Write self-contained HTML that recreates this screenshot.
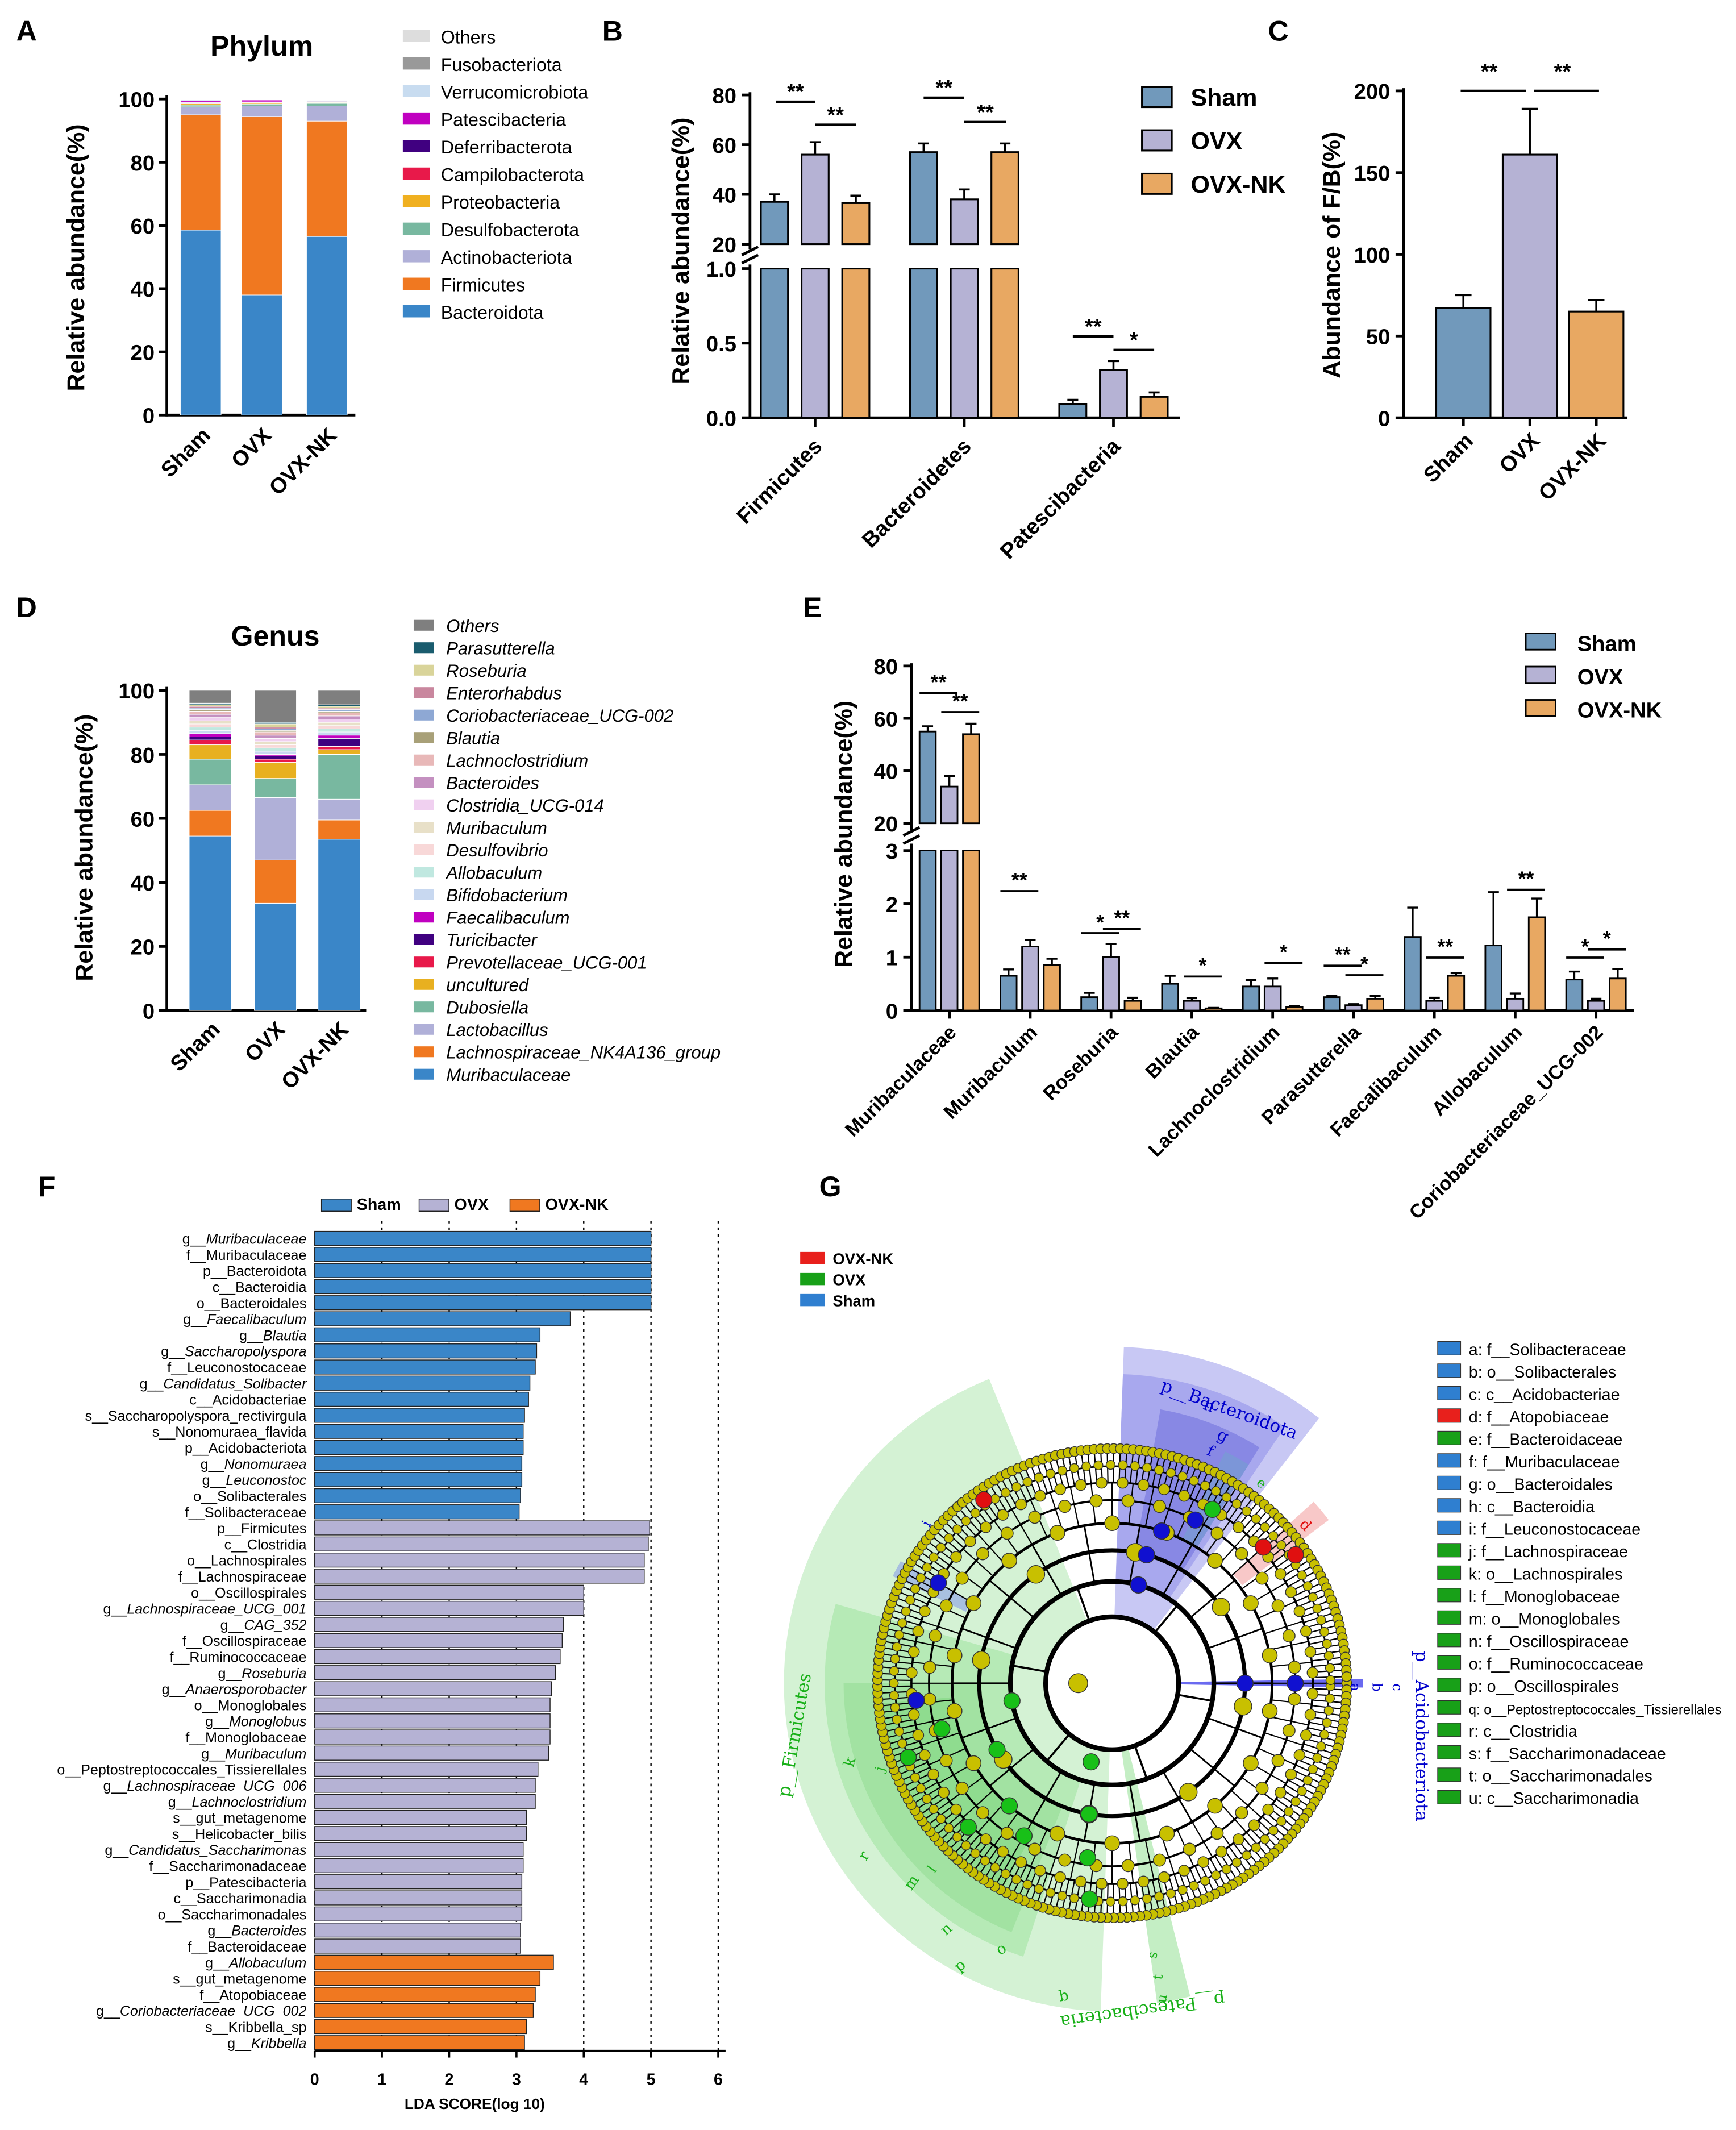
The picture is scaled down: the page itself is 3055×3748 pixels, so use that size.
<!DOCTYPE html>
<html><head><meta charset="utf-8"><style>
html,body{margin:0;padding:0;background:#fff}
svg{display:block;font-family:"Liberation Sans",Arial,sans-serif}
</style></head><body>
<svg id="fig" xmlns="http://www.w3.org/2000/svg" width="3055" height="3748" viewBox="0 0 1280 1570.4"></svg>
<script>
// ---------- DATA ----------
const phylaNames=['Bacteroidota','Firmicutes','Actinobacteriota','Desulfobacterota','Proteobacteria','Campilobacterota','Deferribacterota','Patescibacteria','Verrucomicrobiota','Fusobacteriota','Others'];
const phylaColors=['#3a86c8','#f07820','#b0b0d8','#78b8a0','#f0b020','#e8194a','#400080','#c000c0','#c8dcf0','#999999','#dddddd'];
const phylumSham=[58.5,36.5,2.5,0.6,0.4,0.3,0.2,0.4,0.3,0.1,0.2];
const phylumOVX=[38,56.5,3.3,0.6,0.3,0.2,0.2,0.6,0.1,0.1,0.1];
const phylumNK=[56.5,36.5,4.8,0.8,0.3,0.2,0.2,0.2,0.2,0.1,0.2];
const groups=['Sham','OVX','OVX-NK'];
const grpColors=['#7199bb','#b5b2d4','#e8a862'];

const bCats=['Firmicutes','Bacteroidetes','Patescibacteria'];
const bSham=[37,57,0.09], bShamErr=[3,3.5,0.03];
const bOVX=[56,38,0.32], bOVXErr=[5,4,0.06];
const bNK=[36.5,57,0.14], bNKErr=[3,3.5,0.03];

const cVals=[67,161,65], cErr=[8,28,7];

const genusNames=['Muribaculaceae','Lachnospiraceae_NK4A136_group','Lactobacillus','Dubosiella','uncultured','Prevotellaceae_UCG-001','Turicibacter','Faecalibaculum','Bifidobacterium','Allobaculum','Desulfovibrio','Muribaculum','Clostridia_UCG-014','Bacteroides','Lachnoclostridium','Blautia','Coriobacteriaceae_UCG-002','Enterorhabdus','Roseburia','Parasutterella','Others'];
const genusColors=['#3a86c8','#f07820','#b0b0d8','#78b8a0','#e8b020','#e8194a','#400080','#c000c0','#c8d8f0','#c0e8e0','#f8d8d8','#e8e0c8','#f0d0f0','#c490c0','#e8b8b8','#a8a078','#8ea8d4','#c9879e','#d9d49a','#1a5c6e','#7f7f7f'];
const genusSham=[54.5,8,8,8,4.5,1.5,1,1,1,1,1,1,1,1,1,0.5,0.5,0.5,0.5,0.5,4];
const genusOVX=[33.5,13.5,19.5,6,5,1,1,0.5,1,1,1,1,1,1,1,0.5,0.5,0.5,1,0.5,10];
const genusNK=[53.5,6,6.5,14,1.5,1,2.5,1,1,1,1,1,1,1,1,0.5,0.5,0.5,0.5,0.5,4.5];

const eCats=['Muribaculaceae','Muribaculum','Roseburia','Blautia','Lachnoclostridium','Parasutterella','Faecalibaculum','Allobaculum','Coriobacteriaceae_UCG-002'];
const eSham=[55,0.65,0.25,0.5,0.45,0.25,1.38,1.22,0.58], eShamErr=[2,0.12,0.08,0.15,0.12,0.03,0.55,1.0,0.15];
const eOVX=[34,1.2,1.0,0.18,0.45,0.1,0.18,0.22,0.18], eOVXErr=[4,0.12,0.25,0.05,0.15,0.02,0.06,0.1,0.04];
const eNK=[54,0.85,0.18,0.04,0.06,0.22,0.65,1.75,0.6], eNKErr=[4,0.12,0.06,0.01,0.02,0.05,0.05,0.35,0.18];

const ldaNames=['g__Muribaculaceae','f__Muribaculaceae','p__Bacteroidota','c__Bacteroidia','o__Bacteroidales','g__Faecalibaculum','g__Blautia','g__Saccharopolyspora','f__Leuconostocaceae','g__Candidatus_Solibacter','c__Acidobacteriae','s__Saccharopolyspora_rectivirgula','s__Nonomuraea_flavida','p__Acidobacteriota','g__Nonomuraea','g__Leuconostoc','o__Solibacterales','f__Solibacteraceae',
'p__Firmicutes','c__Clostridia','o__Lachnospirales','f__Lachnospiraceae','o__Oscillospirales','g__Lachnospiraceae_UCG_001','g__CAG_352','f__Oscillospiraceae','f__Ruminococcaceae','g__Roseburia','g__Anaerosporobacter','o__Monoglobales','g__Monoglobus','f__Monoglobaceae','g__Muribaculum','o__Peptostreptococcales_Tissierellales','g__Lachnospiraceae_UCG_006','g__Lachnoclostridium','s__gut_metagenome','s__Helicobacter_bilis','g__Candidatus_Saccharimonas','f__Saccharimonadaceae','p__Patescibacteria','c__Saccharimonadia','o__Saccharimonadales','g__Bacteroides','f__Bacteroidaceae',
'g__Allobaculum','s__gut_metagenome','f__Atopobiaceae','g__Coriobacteriaceae_UCG_002','s__Kribbella_sp','g__Kribbella'];
const ldaScores=[5.0,5.0,5.0,5.0,5.0,3.8,3.35,3.3,3.28,3.2,3.18,3.12,3.1,3.1,3.08,3.08,3.06,3.04,
4.98,4.96,4.9,4.9,4.0,4.0,3.7,3.68,3.65,3.58,3.52,3.5,3.5,3.5,3.48,3.32,3.28,3.28,3.15,3.15,3.1,3.1,3.08,3.08,3.08,3.06,3.06,
3.55,3.35,3.28,3.25,3.15,3.12];
const ldaGroup=[0,0,0,0,0,0,0,0,0,0,0,0,0,0,0,0,0,0, 1,1,1,1,1,1,1,1,1,1,1,1,1,1,1,1,1,1,1,1,1,1,1,1,1,1,1, 2,2,2,2,2,2];
const ldaColors=['#3a86c8','#b5b2d4','#f07820'];

const cladoLegend=['a: f__Solibacteraceae','b: o__Solibacterales','c: c__Acidobacteriae','d: f__Atopobiaceae','e: f__Bacteroidaceae','f: f__Muribaculaceae','g: o__Bacteroidales','h: c__Bacteroidia','i: f__Leuconostocaceae','j: f__Lachnospiraceae','k: o__Lachnospirales','l: f__Monoglobaceae','m: o__Monoglobales','n: f__Oscillospiraceae','o: f__Ruminococcaceae','p: o__Oscillospirales','q: o__Peptostreptococcales_Tissierellales','r: c__Clostridia','s: f__Saccharimonadaceae','t: o__Saccharimonadales','u: c__Saccharimonadia'];
const cladoLegendGrp=[2,2,2,0,1,2,2,2,2,1,1,1,1,1,1,1,1,1,1,1,1];
const cladoColors=['#e8201c','#18a018','#2f7fd0'];

// ---------- HELPERS ----------
const NS='http://www.w3.org/2000/svg';
const svg=document.getElementById('fig');
function E(tag,a,p){const e=document.createElementNS(NS,tag);for(const k in a)e.setAttribute(k,a[k]);(p||svg).appendChild(e);return e;}
function T(x,y,s,a,p){const e=E('text',Object.assign({x:x,y:y},a||{}),p);e.textContent=s;return e;}
function G(){return E('g',{});}

[['A',12,30],['B',444,30],['C',935,30],['D',12,455],['E',592,455],['F',28,882],['G',604,882]].forEach(l=>{
  const t=T(l[1],l[2],l[0],{'font-size':21,'font-weight':'bold'});
  
  
});

function yTitle(x,y,s,name){const t=T(x,y,s,{'font-size':18,'font-weight':'bold','text-anchor':'middle',transform:`rotate(-90 ${x} ${y})`});

}
function xLab(x,y,s,name,fs){const t=T(x,y,s,{'font-size':fs||16,'font-weight':'bold','text-anchor':'end',transform:`rotate(-45 ${x} ${y})`});

}
function line(x1,y1,x2,y2,w,c,p){return E('line',{x1,y1,x2,y2,stroke:c||'#000','stroke-width':w||2},p);}

// ---------- PANEL A ----------
(function(){
 const g=G();
 
 
 const y=v=>306-v*2.33;
 line(123,70,123,307,2,'#000',g);
 [0,20,40,60,80,100].forEach(v=>{line(117,y(v),123,y(v),2,'#000',g);
  const t=T(114,y(v)+6,String(v),{'font-size':16,'font-weight':'bold','text-anchor':'end'},g);
  
  });
 line(123,306,262,306,2,'#000',g);
 const cx=[148,193,241],data=[phylumSham,phylumOVX,phylumNK];
 data.forEach((arr,i)=>{let acc=0;arr.forEach((v,j)=>{const r=E('rect',{x:cx[i]-15,y:y(acc+v),width:30,height:v*2.33,fill:phylaColors[j],stroke:'#fff','stroke-width':0.4},g);
  
  
  acc+=v;});
  xLab(cx[i]+8,322,groups[i],'a-x-label');});
 T(193,41,'Phylum',{'font-size':21,'font-weight':'bold','text-anchor':'middle'},g);
 yTitle(62,190,'Relative abundance(%)','a-y-axis-title');
 for(let k=0;k<phylaNames.length;k++){const j=phylaNames.length-1-k;const yy=27+k*20.3;
  const r=E('rect',{x:297,y:yy-5,width:20,height:9,fill:phylaColors[j]},g);
  
  
  const t=T(325,yy+5,phylaNames[j],{'font-size':13.5},g);
  
  }
})();

// ---------- PANEL B ----------
(function(){
 const g=G();
 
 
 const yT=v=>180-(v-20)*110/60, yB=v=>308-v*110;
 line(553,68,553,184,2,'#000',g);line(553,195,553,309,2,'#000',g);
 line(547,188,559,182,2,'#000',g);line(547,194,559,188,2,'#000',g);
 [20,40,60,80].forEach(v=>{line(547,yT(v),553,yT(v),2,'#000',g);T(543,yT(v)+6,String(v),{'font-size':16,'font-weight':'bold','text-anchor':'end'},g);});
 [0,0.5,1.0].forEach(v=>{line(547,yB(v),553,yB(v),2,'#000',g);T(543,yB(v)+6,v.toFixed(1),{'font-size':16,'font-weight':'bold','text-anchor':'end'},g);});
 line(553,308,870,308,2,'#000',g);
 const centers=[601,711,821];
 [601,711,821].forEach(c=>line(c,308,c,315,2,'#000',g));
 const sets=[[bSham,bShamErr],[bOVX,bOVXErr],[bNK,bNKErr]];
 bCats.forEach((cat,i)=>{sets.forEach((s,k)=>{const v=s[0][i],e=s[1][i],x=centers[i]+(k-1)*30;
  let top;
  if(v>=20){top=yT(v);
   const r1=E('rect',{x:x-10,y:top,width:20,height:180-top,fill:grpColors[k],stroke:'#000','stroke-width':1.3},g);
   
   
   E('rect',{x:x-10,y:198,width:20,height:110,fill:grpColors[k],stroke:'#000','stroke-width':1.3},g);
   line(x,top,x,yT(v+e),1.5,'#000',g);line(x-4,yT(v+e),x+4,yT(v+e),1.5,'#000',g);
  }else{top=yB(v);
   const r=E('rect',{x:x-10,y:top,width:20,height:308-top,fill:grpColors[k],stroke:'#000','stroke-width':1.3},g);
   
   
   line(x,top,x,yB(v+e),1.5,'#000',g);line(x-4,yB(v+e),x+4,yB(v+e),1.5,'#000',g);}
 });
 xLab(centers[i]+6,330,cat,'b-x-label');});
 [[572,601,75,'**'],[601,631,92,'**'],[681,711,72,'**'],[711,742,90,'**'],[791,821,248,'**'],[821,851,258,'*']].forEach(s=>{
  line(s[0],s[2],s[1],s[2],1.8,'#000',g);const t=T((s[0]+s[1])/2,s[2]-2,s[3],{'font-size':16,'font-weight':'bold','text-anchor':'middle'},g);
  });
 yTitle(508,185,'Relative abundance(%)','b-y-axis-title');
 groups.forEach((n,k)=>{const r=E('rect',{x:842,y:64+k*32,width:22,height:15,fill:grpColors[k],stroke:'#000','stroke-width':1.3},g);
  
  const t=T(878,78+k*32,n,{'font-size':18,'font-weight':'bold'},g);
  
  });
})();

// ---------- PANEL C ----------
(function(){
 const g=G();
 
 
 const y=v=>308-v*1.205;
 line(1035,65,1035,309,2,'#000',g);line(1035,308,1200,308,2,'#000',g);
 [0,50,100,150,200].forEach(v=>{line(1029,y(v),1035,y(v),2,'#000',g);T(1025,y(v)+6,String(v),{'font-size':16,'font-weight':'bold','text-anchor':'end'},g);});
 const cx=[1079,1128,1177];
 cVals.forEach((v,k)=>{const r=E('rect',{x:cx[k]-20,y:y(v),width:40,height:v*1.205,fill:grpColors[k],stroke:'#000','stroke-width':1.3},g);
  
  
  line(cx[k],y(v),cx[k],y(v+cErr[k]),1.5,'#000',g);line(cx[k]-6,y(v+cErr[k]),cx[k]+6,y(v+cErr[k]),1.5,'#000',g);
  line(cx[k],308,cx[k],314,2,'#000',g);
  xLab(cx[k]+8,326,groups[k],'c-x-label');});
 [[1077,1125],[1131,1179]].forEach(s=>{line(s[0],67,s[1],67,1.8,'#000',g);T((s[0]+s[1])/2-3,58,'**',{'font-size':16,'font-weight':'bold','text-anchor':'middle'},g);});
 yTitle(988,188,'Abundance of F/B(%)','c-y-axis-title');
})();

// ---------- PANEL D ----------
(function(){
 const g=G();
 
 
 const y=v=>745-v*2.36;
 line(123,506,123,746,2,'#000',g);line(123,745,270,745,2,'#000',g);
 [0,20,40,60,80,100].forEach(v=>{line(117,y(v),123,y(v),2,'#000',g);T(114,y(v)+6,String(v),{'font-size':16,'font-weight':'bold','text-anchor':'end'},g);});
 const cx=[155,203,250],data=[genusSham,genusOVX,genusNK];
 data.forEach((arr,i)=>{let acc=0;arr.forEach((v,j)=>{const r=E('rect',{x:cx[i]-15.5,y:y(acc+v),width:31,height:v*2.36,fill:genusColors[j],stroke:'#fff','stroke-width':0.4},g);
  
  
  acc+=v;});
  xLab(cx[i]+8,760,groups[i],'d-x-label');});
 T(203,476,'Genus',{'font-size':21,'font-weight':'bold','text-anchor':'middle'},g);
 yTitle(68,625,'Relative abundance(%)','d-y-axis-title');
 for(let k=0;k<genusNames.length;k++){const j=genusNames.length-1-k;const yy=461+k*16.55;
  const r=E('rect',{x:305,y:yy-4,width:15,height:8,fill:genusColors[j]},g);
  
  const t=T(329,yy+5,genusNames[j],{'font-size':13,'font-style':'italic'},g);
  
  }
})();

// ---------- PANEL E ----------
(function(){
 const g=G();
 
 
 const yT=v=>607-(v-20)*116/60, yB=v=>745-v*39.3;
 line(672,489,672,612,2,'#000',g);line(672,622,672,746,2,'#000',g);
 line(666,616,678,610,2,'#000',g);line(666,622,678,616,2,'#000',g);
 [20,40,60,80].forEach(v=>{line(666,yT(v),672,yT(v),2,'#000',g);T(662,yT(v)+6,String(v),{'font-size':16,'font-weight':'bold','text-anchor':'end'},g);});
 [0,1,2,3].forEach(v=>{line(666,yB(v),672,yB(v),2,'#000',g);T(662,yB(v)+6,String(v),{'font-size':16,'font-weight':'bold','text-anchor':'end'},g);});
 line(672,745,1205,745,2,'#000',g);
 const sets=[[eSham,eShamErr],[eOVX,eOVXErr],[eNK,eNKErr]];
 eCats.forEach((cat,i)=>{const c=700+59.6*i;line(c,745,c,751,2,'#000',g);
  sets.forEach((s,k)=>{const v=s[0][i],e=s[1][i],x=c+(k-1)*16;
  if(v>=20){const top=yT(v);
   const r=E('rect',{x:x-6,y:top,width:12,height:607-top,fill:grpColors[k],stroke:'#000','stroke-width':1.2},g);
   
   
   E('rect',{x:x-6,y:627,width:12,height:118,fill:grpColors[k],stroke:'#000','stroke-width':1.2},g);
   line(x,top,x,yT(v+e),1.4,'#000',g);line(x-4,yT(v+e),x+4,yT(v+e),1.4,'#000',g);
  }else{const top=yB(v);
   const r=E('rect',{x:x-6,y:top,width:12,height:745-top,fill:grpColors[k],stroke:'#000','stroke-width':1.2},g);
   
   
   line(x,top,x,yB(v+e),1.4,'#000',g);line(x-4,yB(v+e),x+4,yB(v+e),1.4,'#000',g);}
  });
  xLab(c+6,762,cat,'e-x-label',14.5);});
 [[0,0,1,511,'**'],[0,1,2,525,'**'],[1,0,1,657,'**'],[2,0,1,688,'*'],[2,1,2,685,'**'],[3,1,2,720,'*'],[4,1,2,710,'*'],[5,0,1,712,'**'],[5,1,2,719,'*'],[6,1,2,706,'**'],[7,1,2,656,'**'],[8,0,1,706,'*'],[8,1,2,700,'*']].forEach(s=>{
  const c=700+59.6*s[0];const x1=c+(s[1]-1)*16-6,x2=c+(s[2]-1)*16+6;
  line(x1,s[3],x2,s[3],1.6,'#000',g);const t=T((x1+x2)/2,s[3]-3,s[4],{'font-size':15,'font-weight':'bold','text-anchor':'middle'},g);
  });
 yTitle(628,615,'Relative abundance(%)','e-y-axis-title');
 groups.forEach((n,k)=>{const r=E('rect',{x:1125,y:467+k*24.5,width:22,height:12,fill:grpColors[k],stroke:'#000','stroke-width':1.2},g);
  
  const t=T(1163,480+k*24.5,n,{'font-size':16,'font-weight':'bold'},g);
  
  });
})();

// ---------- PANEL F ----------
(function(){
 const g=G();
 
 
 const x=v=>232+v*49.6, rowY=i=>913+i*11.86;
 for(let v=1;v<=6;v++){const l=line(x(v),900,x(v),1512,1,'#000',g);l.setAttribute('stroke-dasharray','2,3');}
 ldaNames.forEach((n,i)=>{const yy=rowY(i);
  const r=E('rect',{x:232,y:yy-5.2,width:ldaScores[i]*49.6,height:10.4,fill:ldaColors[ldaGroup[i]],stroke:'#222','stroke-width':0.6},g);
  
  
  const p=n.indexOf('__');const pre=n.slice(0,p+2),rest=n.slice(p+2);
  const t=E('text',{x:226,y:yy+4,'font-size':10.5,'text-anchor':'end'},g);
  
  
  const s1=E('tspan',{},t);s1.textContent=pre;
  const s2=E('tspan',pre[0]==='g'?{'font-style':'italic'}:{},t);s2.textContent=rest;
 });
 line(232,1512,535,1512,1.5,'#000',g);
 for(let v=0;v<=6;v++){line(x(v),1512,x(v),1517,1.5,'#000',g);T(x(v),1537,String(v),{'font-size':12,'font-weight':'bold','text-anchor':'middle'},g);}
 T(350,1555,'LDA SCORE(log 10)',{'font-size':11,'font-weight':'bold','text-anchor':'middle'},g);
 [['Sham',237,0],['OVX',309,1],['OVX-NK',376,2]].forEach(l=>{const r=E('rect',{x:l[1],y:884,width:22,height:9,fill:ldaColors[l[2]],stroke:'#222','stroke-width':0.6},g);
  
  const t=T(l[1]+26,892,l[0],{'font-size':12,'font-weight':'bold'},g);
  
  });
})();

// ---------- PANEL G ----------
(function(){
 const g=G();
 
 
 const cx=820,cy=1241,rad=Math.PI/180;
 const P=(r,a)=>[cx+r*Math.cos(a*rad),cy+r*Math.sin(a*rad)];
 function wedge(r0,r1,a0,a1,fill,name){const p0=P(r1,a0),p1=P(r1,a1),p2=P(r0,a1),p3=P(r0,a0);const lg=(a1-a0)>180?1:0;
  const w=E('path',{d:`M${p0[0]},${p0[1]} A${r1},${r1} 0 ${lg} 1 ${p1[0]},${p1[1]} L${p2[0]},${p2[1]} A${r0},${r0} 0 ${lg} 0 ${p3[0]},${p3[1]} Z`,fill:fill},g);
  
  return w;}
 wedge(49,242,92,248,'#d4f2d4','g-firmicutes-sector');
 wedge(75,212,108,196,'#b6eab6','g-clostridia-sector');
 wedge(98,198,112,180,'#a2e2a2','g-lachnospirales-sector');
 wedge(118,176,118,175,'#8fdc8f','g-oscillo-sector');
 wedge(49,238,76,82,'#c4eec4','g-patescibacteria-sector');
 wedge(49,248,-88,-52,'#c8c8f4','g-bacteroidota-sector');
 wedge(75,228,-88,-56,'#a8a8ee','g-bacteroidia-sector');
 wedge(98,205,-80,-58,'#8888e4','g-bacteroidales-sector');
 wedge(118,190,-64,-58,'#7c96d8','g-bacteroidaceae-sector');
 wedge(120,200,-42,-37,'#f8c8c8','g-atopobiaceae-sector');
 wedge(49,185,-1,1,'#6a6af0','g-acidobacteriota-sector');
 wedge(120,180,-154,-150,'#a8c0e0','g-leuconostocaceae-sector');
 E('circle',{cx:cx,cy:cy,r:49,fill:'none',stroke:'#000','stroke-width':3.5},g);
 const sp=E('g',{stroke:'#000','stroke-width':1},g);
 
 for(let a=0;a<360;a+=1.6){const p1=P(148,a),p2=P(172,a);line(p1[0],p1[1],p2[0],p2[1],0.9,'#000',sp);}
 for(let a=0;a<360;a+=6){const p1=P(118,a),p2=P(148,a);line(p1[0],p1[1],p2[0],p2[1],0.9,'#000',sp);}
 for(let a=0;a<360;a+=20){const p1=P(75,a),p2=P(118,a);line(p1[0],p1[1],p2[0],p2[1],1.2,'#000',sp);}
 for(let a=10;a<360;a+=60){const p1=P(49,a),p2=P(75,a);line(p1[0],p1[1],p2[0],p2[1],1.5,'#000',sp);}
 [[75,3.5],[98,3],[118,2],[135,1.5],[148,1.5],[160,1.2]].forEach(r=>E('circle',{cx:cx,cy:cy,r:r[0],fill:'none',stroke:'#000','stroke-width':r[1]},g));
 const nd=E('g',{stroke:'#333','stroke-width':0.6},g);
 
 for(let a=0;a<360;a+=1.6){const p=P(173,a);E('circle',{cx:p[0],cy:p[1],r:3.6,fill:'#c8c000'},nd);}
 for(let a=0.8;a<360;a+=3.2){const p=P(161,a);E('circle',{cx:p[0],cy:p[1],r:3.3,fill:'#c8c000'},nd);}
 for(let a=3;a<360;a+=6){const p=P(148,a);E('circle',{cx:p[0],cy:p[1],r:4,fill:'#c8c000'},nd);}
 for(let a=5;a<360;a+=10){const p=P(135,a);E('circle',{cx:p[0],cy:p[1],r:4.5,fill:'#c8c000'},nd);}
 for(let a=10;a<360;a+=20){const p=P(118,a);E('circle',{cx:p[0],cy:p[1],r:5.5,fill:'#c8c000'},nd);}
 for(let a=10;a<360;a+=45){const p=P(98,a);E('circle',{cx:p[0],cy:p[1],r:6.5,fill:'#c8c000'},nd);}
 E('circle',{cx:cx-25,cy:cy,r:7,fill:'#c8c000'},nd);
 [[-75,75,'#1010d0'],[-75,98,'#1010d0'],[-72,118,'#1010d0'],[-63,135,'#1010d0'],[-60,148,'#18c018'],[-42,150,'#e01010'],[-35,165,'#e01010'],[-150,148,'#1010d0'],[-125,165,'#e01010'],[175,145,'#1010d0'],[170,75,'#18c018'],[150,98,'#18c018'],[165,130,'#18c018'],[160,160,'#18c018'],[105,60,'#18c018'],[100,98,'#18c018'],[98,130,'#18c018'],[96,160,'#18c018'],[130,118,'#18c018'],[135,150,'#18c018'],[120,130,'#18c018'],[0,98,'#1010d0'],[0,135,'#1010d0']].forEach(n=>{const p=P(n[1],n[0]);E('circle',{cx:p[0],cy:p[1],r:6,fill:n[2]},nd);});
 [['p__Bacteroidota',905,1043,20,'#0000cc',13],['h',890,1040,20,'#0000cc',12],['g',900,1062,25,'#0000cc',12],['f',891,1073,25,'#0000cc',11],['e',928,1096,40,'#18b018',10],['d',960,1127,45,'#e01010',11],['p__Firmicutes',590,1280,-80,'#18b018',13],['k',630,1300,-75,'#18b018',11],['j',652,1305,-75,'#18b018',10],['r',640,1370,-60,'#18b018',11],['m',675,1390,-55,'#18b018',11],['l',690,1380,-55,'#18b018',10],['n',700,1425,-40,'#18b018',11],['o',740,1440,-30,'#18b018',11],['p',710,1452,-40,'#18b018',11],['b',785,1475,-10,'#18b018',11],['s',853,1442,-80,'#18b018',10],['t',857,1458,-80,'#18b018',10],['u',860,1474,-80,'#18b018',10],['p__Patescibacteria',842,1478,172,'#18b018',13],['p__Acidobacteriota',1044,1280,90,'#0000cc',13],['a',996,1244,90,'#0000cc',10],['b',1012,1244,90,'#0000cc',10],['c',1027,1244,90,'#0000cc',10],['i',686,1125,-60,'#0000cc',10]].forEach(l=>{
  const t=T(l[1],l[2],l[0],{'font-size':l[5],fill:l[4],'font-family':'DejaVu Serif, serif','text-anchor':'middle',transform:`rotate(${l[3]} ${l[1]} ${l[2]})`},g);
  
  });
 [['OVX-NK',0],['OVX',1],['Sham',2]].forEach((l,k)=>{const r=E('rect',{x:590,y:923+k*15.5,width:18,height:9,fill:cladoColors[l[1]]},g);
  
  const t=T(614,932+k*15.5,l[0],{'font-size':11.5,'font-weight':'bold'},g);
  
  });
 cladoLegend.forEach((s,k)=>{const yy=994+k*16.55;
  const r=E('rect',{x:1060,y:yy-5,width:17,height:10,fill:cladoColors[cladoLegendGrp[k]],stroke:'#333','stroke-width':0.5},g);
  
  const t=T(1083,yy+5,s,{'font-size':s.length>30?10:12},g);
  
  });
})();
</script>
</body></html>
